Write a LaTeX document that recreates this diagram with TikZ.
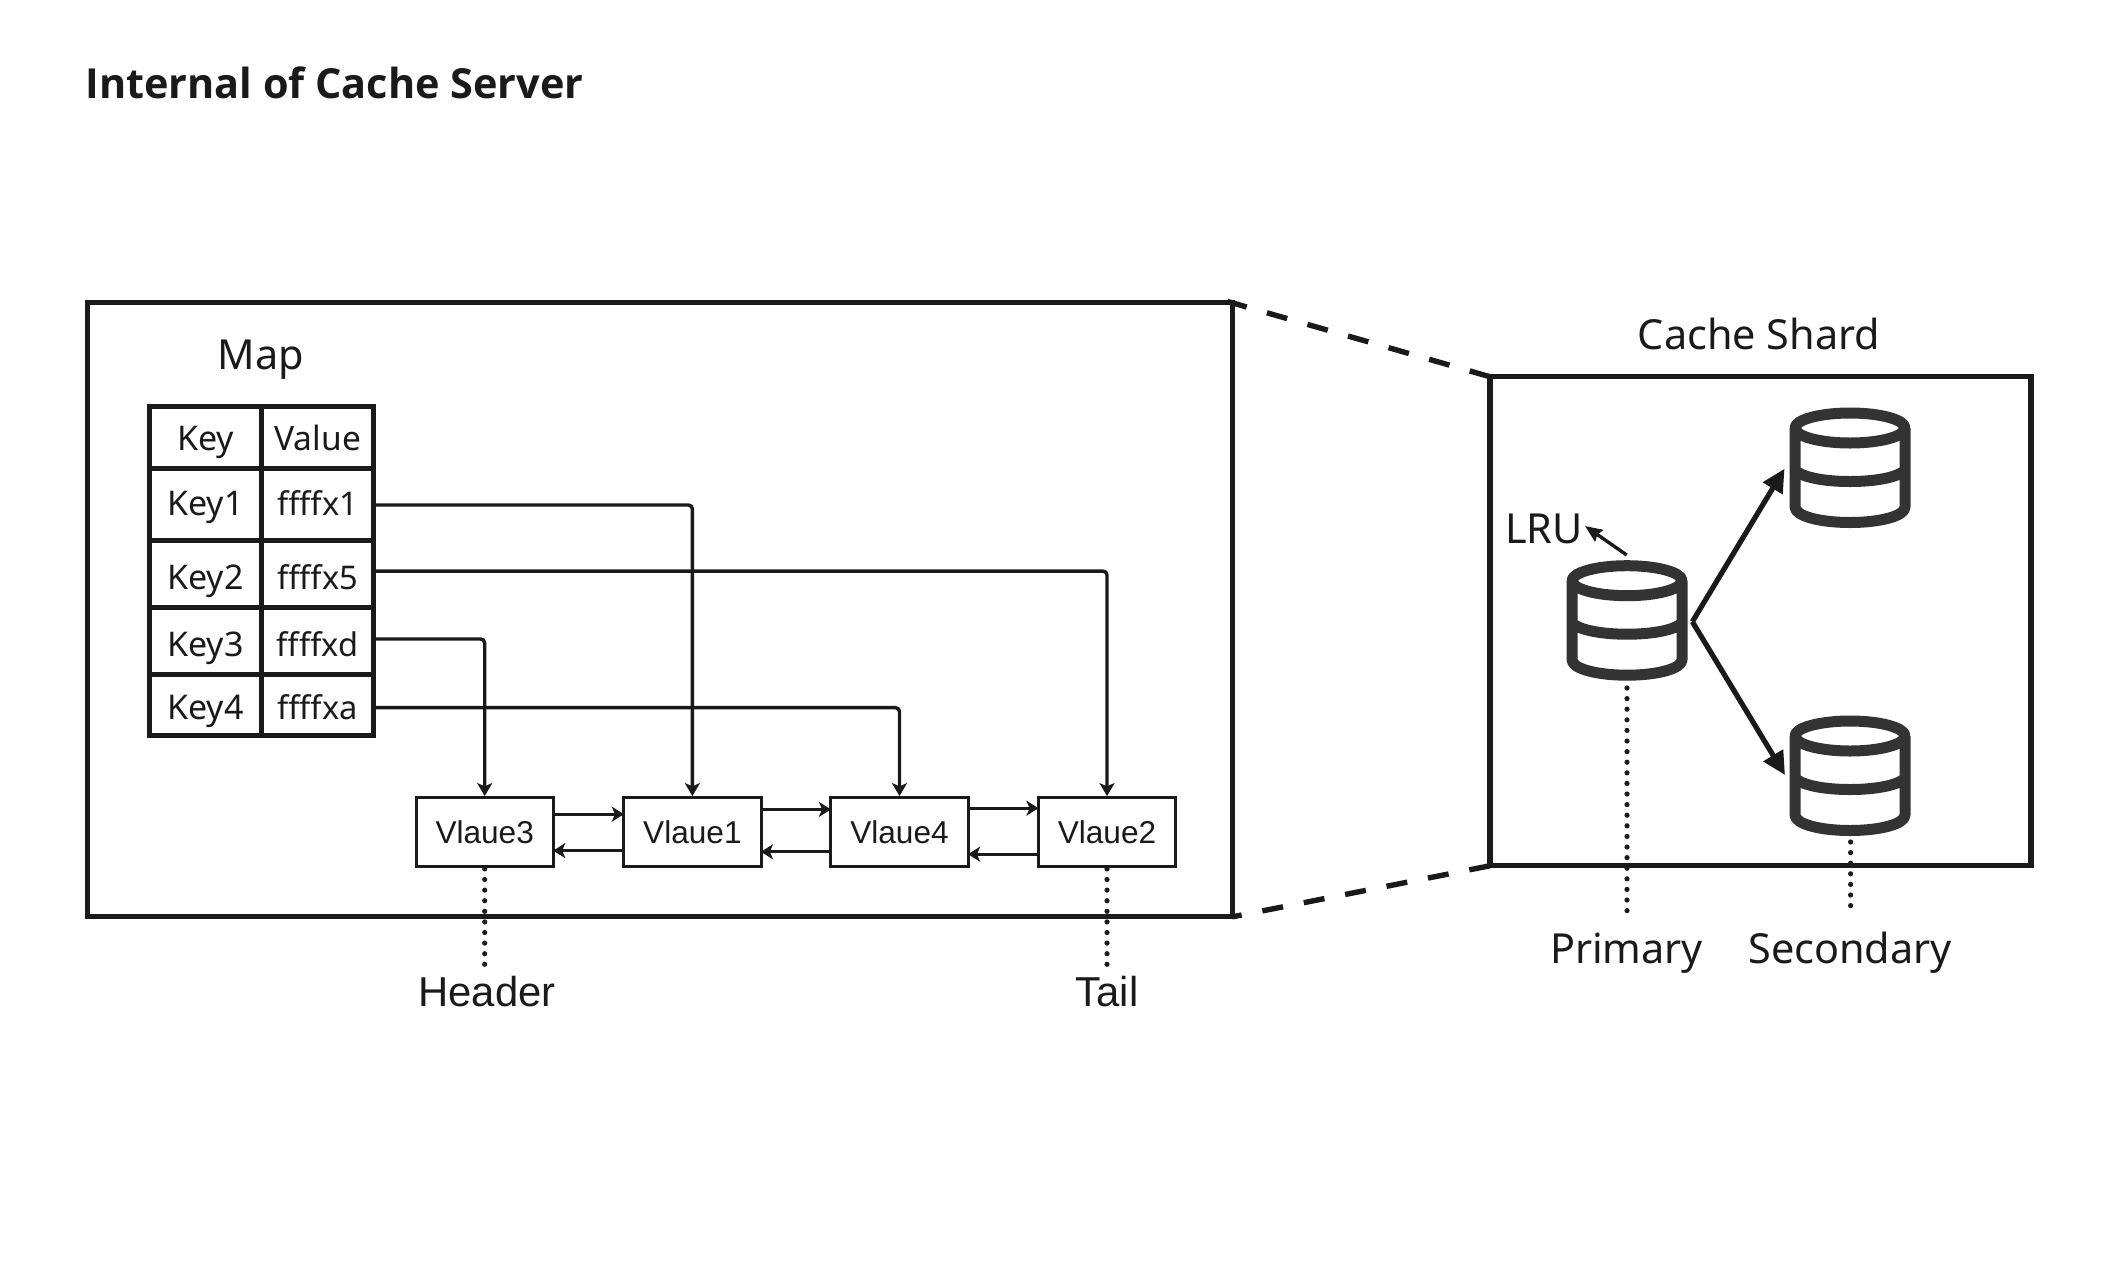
\documentclass[tikz,border=0pt]{standalone}
\usepackage{fontspec}
\setmainfont{Noto Sans}
\newfontfamily\arialfont{Liberation Sans}
\newfontfamily\titlefont{Open Sans}
\usetikzlibrary{arrows.meta}
\definecolor{ink}{HTML}{1A1A1A}
\definecolor{dbgrey}{HTML}{333333}
\tikzset{
  boxframe/.style={draw=ink,line width=2.6pt,fill=none,outer sep=0pt,inner sep=0pt},
  tablecell/.style={draw=ink,line width=2.5pt,outer sep=0pt,inner sep=0pt,font=\fontsize{17pt}{18pt}\selectfont,text=ink},
  addrcell/.style={tablecell,font=\fontsize{16.3pt}{18pt}\selectfont},
  rowa/.style={minimum height=31pt,text height=16.15pt,text depth=3.85pt},
  rowb/.style={minimum height=35.65pt,text height=15.55pt,text depth=4.45pt},
  rowc/.style={minimum height=33.85pt,text height=18pt,text depth=2pt},
  rowd/.style={minimum height=33.3pt,text height=17.85pt,text depth=2.15pt},
  rowe/.style={minimum height=30.35pt,text height=17.3pt,text depth=2.7pt},
  cola/.style={minimum width=56.2pt},
  colb/.style={minimum width=56pt},
  valuebox/.style={draw=ink,line width=1.5pt,outer sep=0pt,inner sep=0pt,minimum width=68.6pt,minimum height=34.5pt,text=ink,font=\arialfont\fontsize{15.8pt}{18pt}\selectfont},
  biglabel/.style={anchor=base,text=ink,inner sep=0pt,font=\fontsize{20.7pt}{22pt}\selectfont},
  arlabel/.style={anchor=base,text=ink,inner sep=0pt,font=\arialfont\fontsize{20.9pt}{22pt}\selectfont},
  mapline/.style={draw=ink,line width=1.7pt,rounded corners=2pt,-{Stealth[length=6.5pt,width=7.5pt,inset=1.6pt]},shorten >=0.8pt},
  listline/.style={draw=ink,line width=1.6pt,-{Stealth[length=6pt,width=7.5pt,inset=1.6pt]}},
  forkline/.style={draw=ink,line width=2.6pt,-{Triangle[length=11.5pt,width=11pt]}},
  lruline/.style={draw=ink,line width=1.7pt,-{Stealth[length=8.5pt,width=7pt,inset=1pt]}},
  dotline/.style={draw=ink,line width=2.6pt,line cap=round,dash pattern=on 0pt off 5.3pt},
  zoomline/.style={draw=ink,line width=2.7pt,dash pattern=on 10.55pt off 10.55pt},
  dbslot/.style={inner sep=0pt,outer sep=0pt,minimum width=60pt,minimum height=60pt},
  dbicon/.pic={
    \draw[dbgrey,line width=5.5pt,line join=round]
      (0,20) ellipse [x radius=55,y radius=15]
      (-55,20) -- (-55,99) .. controls (-55,108) and (-30,114.5) .. (0,114.5)
      .. controls (30,114.5) and (55,108) .. (55,99) -- (55,20)
      (-55,62) .. controls (-50,68) and (-30,73.5) .. (0,73.5)
      .. controls (30,73.5) and (50,68) .. (55,62);
  }
}
\begin{document}
\begin{tikzpicture}[x=0.5pt,y=-0.5pt]
\useasboundingbox[fill=white] (0,0) rectangle (2112,1280);

\node[anchor=base west,inner sep=0pt,text=ink,font=\titlefont\bfseries\fontsize{20.7pt}{24pt}\selectfont] (title) at (85,98.5) {Internal of Cache Server};

% frames
\node[boxframe,minimum width=572.5pt,minimum height=307pt] (outer) at (659.8,609.85) {};
\node[boxframe,minimum width=270.5pt,minimum height=244.5pt] (shard) at (1760.5,621.25) {};
\draw[zoomline,shorten >=-2.5pt] (shard.north west) -- (outer.north east);
\draw[zoomline] (shard.south west) -- (outer.south east);

% map
\node[biglabel] (maplabel) at (261,369) {Map};
\node[tablecell,cola,rowa] (k0) at (205.5,437.7) {Key};
\node[tablecell,colb,rowa,font=\fontsize{16.75pt}{18pt}\selectfont] (v0) at (317.7,437.7) {Value};
\node[tablecell,cola,rowb] (k1) at (205.5,504.35) {Key1};
\node[addrcell,colb,rowb] (f1) at (317.7,504.35) {ffffx1};
\node[tablecell,cola,rowc] (k2) at (205.5,573.85) {Key2};
\node[addrcell,colb,rowc] (f2) at (317.7,573.85) {ffffx5};
\node[tablecell,cola,rowd] (k3) at (205.5,641) {Key3};
\node[addrcell,colb,rowd] (f3) at (317.7,641) {ffffxd};
\node[tablecell,cola,rowe] (k4) at (205.5,704.65) {Key4};
\node[addrcell,colb,rowe] (f4) at (317.7,704.65) {ffffxa};

% list
\node[valuebox] (n3) at (484.7,832.2) {Vlaue3};
\node[valuebox] (n1) at (692.4,832.2) {Vlaue1};
\node[valuebox] (n4) at (899.5,832.2) {Vlaue4};
\node[valuebox] (n2) at (1107,832.2) {Vlaue2};

\draw[mapline] ([yshift=-0.3pt]f1.east) -| (n1.north);
\draw[mapline] ([yshift=1.4pt]f2.east) -| (n2.north);
\draw[mapline] ([yshift=1pt]f3.east) -| (n3.north);
\draw[mapline] ([yshift=-1.5pt]f4.east) -| (n4.north);

\draw[listline] ([yshift=9pt]n3.east) -- ([yshift=9pt]n1.west);
\draw[listline] ([yshift=-9.2pt]n1.west) -- ([yshift=-9.2pt]n3.east);
\draw[listline] ([yshift=11.4pt]n1.east) -- ([yshift=11.4pt]n4.west);
\draw[listline] ([yshift=-9.8pt]n4.west) -- ([yshift=-9.8pt]n1.east);
\draw[listline] ([yshift=12pt]n4.east) -- ([yshift=12pt]n2.west);
\draw[listline] ([yshift=-11pt]n2.west) -- ([yshift=-11pt]n4.east);

\coordinate (headend) at (484.7,967);
\coordinate (tailend) at (1107,967);
\draw[dotline,shorten <=1.1pt] (n3.south) -- (headend);
\draw[dotline,shorten <=1.1pt] (n2.south) -- (tailend);
\node[arlabel] (header) at (487,1006) {Header};
\node[arlabel] (tail) at (1107,1006) {Tail};

% shard
\node[biglabel] (shardlabel) at (1759,349) {Cache Shard};
\node[biglabel] (lru) at (1544,543) {LRU};
\node[dbslot] (prim) at (1627,620.7) {};
\node[dbslot] (secA) at (1850,468) {};
\node[dbslot] (secB) at (1850,776) {};
\pic at (prim.north) {dbicon};
\pic at (secA.north) {dbicon};
\pic at (secB.north) {dbicon};
\coordinate (fork) at (1692.3,621.7);
\coordinate (tipA) at (1784.5,468.7);
\coordinate (tipB) at (1785,775);
\draw[forkline] (fork) -- (tipA);
\draw[forkline] (fork) -- (tipB);
\coordinate (lrufrom) at (1626.7,555);
\coordinate (lruto) at (1585,526);
\draw[lruline] (lrufrom) -- (lruto);
\coordinate (primA) at (1627,688);
\coordinate (primB) at (1627,912);
\coordinate (secC) at (1850.6,842);
\coordinate (secD) at (1850.6,908);
\draw[dotline] (primA) -- (primB);
\draw[dotline] (secC) -- (secD);
\node[biglabel] (primary) at (1626.5,963) {Primary};
\node[biglabel] (secondary) at (1850,963) {Secondary};
\end{tikzpicture}
\end{document}
